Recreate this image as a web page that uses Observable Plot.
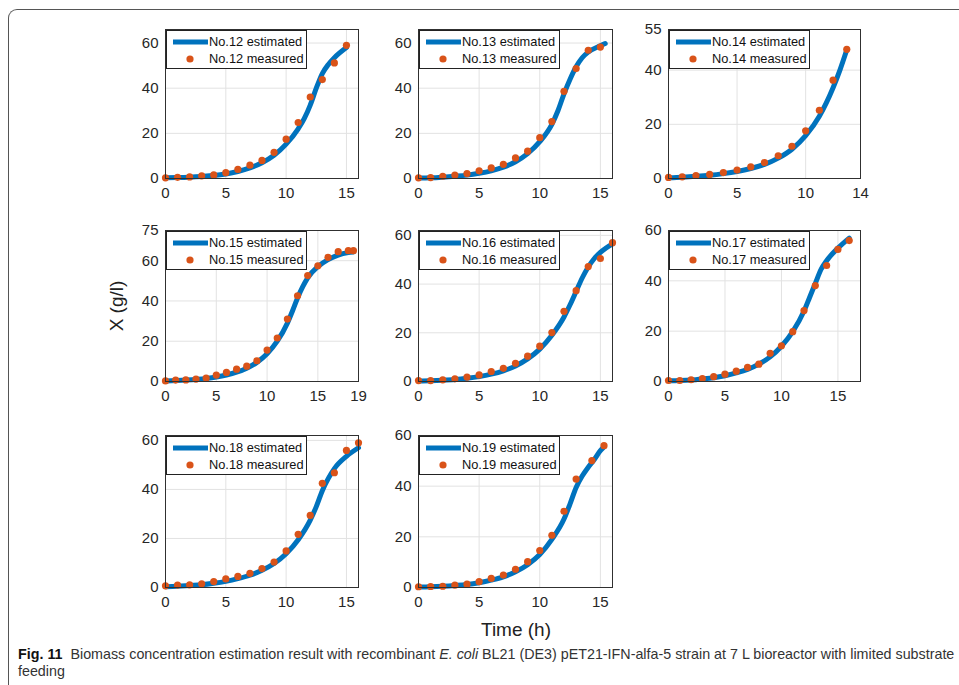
<!DOCTYPE html>
<html><head><meta charset="utf-8">
<script src="https://cdn.jsdelivr.net/npm/d3@7"></script>
<script src="https://cdn.jsdelivr.net/npm/@observablehq/plot@0.6"></script>
<style>
html,body{margin:0;padding:0;background:#fff;}
body{width:959px;height:685px;overflow:hidden;position:relative;font-family:"Liberation Sans",Arial,sans-serif;}
#border{position:absolute;left:8px;top:9px;width:980px;height:700px;border-left:1px solid #555;border-top:1px solid #555;border-top-left-radius:9px;}
.panel{position:absolute;}
.legend{position:absolute;background:#fff;border:1px solid #222;box-sizing:border-box;width:141px;height:39px;font-size:12.8px;color:#111;}
.legend .t{position:absolute;left:42px;white-space:nowrap;line-height:14px;}
.legend svg{position:absolute;left:0;top:0;}
.axtitle{position:absolute;font-size:19px;color:#222;white-space:nowrap;}
.capline{position:absolute;left:18px;font-size:14.3px;line-height:17px;color:#333;white-space:nowrap;}
.capline b{color:#111;}
</style></head>
<body>
<div id="border"></div>
<div id="root"></div>
<div class="axtitle" id="ylab" style="left:117px;top:306px;transform:translate(-50%,-50%) rotate(-90deg);">X (g/l)</div>
<div class="axtitle" id="xlab" style="left:516px;top:630px;transform:translate(-50%,-50%);">Time (h)</div>
<div class="capline" style="top:646px"><b>Fig. 11</b>&nbsp; Biomass concentration estimation result with recombinant <i>E. coli</i> BL21 (DE3) pET21-IFN-alfa-5 strain at 7 L bioreactor with limited substrate</div>
<div class="capline" style="top:663px">feeding</div>
<script>
// ---------- data ----------
const names = ["No.12","No.13","No.14","No.15","No.16","No.17","No.18","No.19"];

const meas12T = [0,1,2,3,4,5,6,7,8,9,10,11,12,13,14,15];
const meas12X = [0.3,0.5,0.7,1.2,1.6,2.6,4.0,5.9,8.0,11.6,17.4,24.8,36.1,43.8,51.2,59.0];
const est12T = [0,1,2,3,4,5,6,7,8,9,10,11,11.5,12,12.5,13,13.5,14,15];
const est12X = [0.3,0.4,0.6,0.9,1.3,2.0,3.1,4.7,7.0,10.3,15.2,22.0,26.5,32.5,40,46.5,50.5,53.5,58];

const meas13T = [0,1,2,3,4,5,6,7,8,9,10,11,12,13,14,15];
const meas13X = [0.3,0.4,1.0,1.5,2.2,3.4,4.7,6.3,9.1,12.1,18.1,25.2,38.6,48.7,56.8,58.2];
const est13T = [0,1,2,3,4,5,6,7,8,9,10,11,11.5,12,12.5,13,13.5,14,15,15.4];
const est13X = [0.2,0.3,0.6,1.0,1.5,2.3,3.4,5.0,7.4,11.0,16.3,24.0,30,37.5,44,49.5,53.5,56,58.8,59.8];

const meas14T = [0,1,2,3,4,5,6,7,8,9,10,11,12,13];
const meas14X = [0.4,0.6,1.1,1.5,2.2,3.1,4.3,5.9,8.4,11.9,17.6,25.2,36.3,47.7];
const est14T = [0,1,2,3,4,5,6,7,8,9,10,11,12,12.5,13];
const est14X = [0.3,0.5,0.8,1.2,1.8,2.6,3.7,5.2,7.5,10.8,15.8,23,33.5,40,47.5];

const meas15T = [0,1,2,3,4,5,6,7,8,9,10,11,12,13,14,15,16,17,18,18.5];
const meas15X = [0.3,0.7,0.8,1.2,1.7,3.2,4.5,6.1,7.6,10.3,15.6,21.6,31.0,42.6,52.6,57.5,61.7,64.5,65.0,65.0];
const est15T = [0,2,4,5,6,7,8,9,10,11,12,12.5,13,13.5,14,15,16,17,18,18.5];
const est15X = [0.3,0.7,1.5,2.2,3.2,4.6,6.6,9.5,13.8,20,29,35,41.5,47,51.5,57,60.5,62.8,64,64.3];

const meas16T = [0,1,2,3,4,5,6,7,8,9,10,11,12,13,14,15,16];
const meas16X = [0.4,0.4,0.7,1.1,1.8,2.7,4.1,5.4,7.5,10.4,14.5,20.1,28.8,37.3,47.2,50.5,57.0];
const est16T = [0,1,2,3,4,5,6,7,8,9,10,11,12,12.5,13,13.5,14,14.5,15,16];
const est16X = [0.2,0.3,0.5,0.8,1.3,2.0,3.0,4.4,6.4,9.3,13.3,19,26.5,31.5,37,42.5,47,50.5,53,56.5];

const meas17T = [0,1,2,3,4,5,6,7,8,9,10,11,12,13,14,15,16];
const meas17X = [0.4,0.4,0.7,1.2,1.9,2.9,4.1,5.6,6.9,11.2,14.2,19.8,28.2,38.1,46.1,52.5,56.0];
const est17T = [0,1,2,3,4,5,6,7,8,9,10,11,12,12.5,13,13.5,14,15,16];
const est17X = [0.3,0.4,0.6,1.0,1.5,2.3,3.4,4.8,6.9,9.8,14,19.8,28,33.5,39,44.5,48,53,57];

const meas18T = [0,1,2,3,4,5,6,7,8,9,10,11,12,13,14,15,16];
const meas18X = [0.7,1.0,1.1,1.5,2.4,3.5,4.5,5.8,7.7,10.4,14.9,21.7,29.4,42.5,46.8,55.9,59.0];
const est18T = [0,1,2,3,4,5,6,7,8,9,10,11,12,12.5,13,13.5,14,15,16];
const est18X = [0.3,0.5,0.8,1.1,1.7,2.5,3.6,5.0,7.0,9.8,13.8,19.5,27.5,33,39.5,44.5,48.5,53.5,57];

const meas19T = [0,1,2,3,4,5,6,7,8,9,10,11,12,13,14.3,15.3];
const meas19X = [0.3,0.4,0.5,0.9,1.3,2.3,3.6,4.9,7.2,10.2,14.6,20.6,30.1,42.8,50.1,56.0];
const est19T = [0,1,2,3,4,5,6,7,8,9,10,11,12,12.5,13,13.5,14,14.5,15,15.3];
const est19X = [0.2,0.3,0.5,0.8,1.2,1.9,2.9,4.2,6.2,9.0,13.0,19,27,33,39.5,44,47.5,50.5,54,55.5];

const xTicksStd = [0,5,10,15];
const yTicksStd = [0,20,40,60];
const xTicks14 = [0,5,10,14];
const yTicks14 = [0,20,40,55];
const xTicks15 = [0,5,10,15,19];
const yTicks15 = [0,20,40,60,75];

const xDomains = [[0,16],[0,16],[0,14],[0,19],[0,16],[0,17],[0,16],[0,16]];
const yDomains = [[0,66],[0,66],[0,55],[0,75],[0,62],[0,60],[0,62],[0,60]];

const measT = [meas12T,meas13T,meas14T,meas15T,meas16T,meas17T,meas18T,meas19T];
const measX = [meas12X,meas13X,meas14X,meas15X,meas16X,meas17X,meas18X,meas19X];
const estT = [est12T,est13T,est14T,est15T,est16T,est17T,est18T,est19T];
const estX = [est12X,est13X,est14X,est15X,est16X,est17X,est18X,est19X];
const xTickSets = [xTicksStd,xTicksStd,xTicks14,xTicks15,xTicksStd,xTicksStd,xTicksStd,xTicksStd];
const yTickSets = [yTicksStd,yTicksStd,yTicks14,yTicks15,yTicksStd,yTicksStd,yTicksStd,yTicksStd];

// ---------- layout ----------
const colX = [[165,358],[418,612],[668,860]];
const rowY = [[29,178],[230,381],[435,587]];
const ML = 50, MR = 12, MT = 8, MB = 30;
const BLUE = "#0072BD", ORANGE = "#D95319";

const root = document.getElementById("root");
names.forEach((name, i) => {
  const col = i % 3, row = Math.floor(i / 3);
  const [x0, x1] = colX[col], [y0, y1] = rowY[row];
  const fw = x1 - x0, fh = y1 - y0;
  const meas = measT[i].map((t, k) => ({t, v: measX[i][k]}));
  const est = estT[i].map((t, k) => ({t, v: estX[i][k]}));
  const chart = Plot.plot({
    width: fw + ML + MR, height: fh + MT + MB,
    marginLeft: ML, marginRight: MR, marginTop: MT, marginBottom: MB,
    style: {fontFamily: "'Liberation Sans', Arial, sans-serif", fontSize: "15px", color: "#262626", background: "transparent", overflow: "visible"},
    x: {domain: xDomains[i], ticks: xTickSets[i], tickSize: 0, tickPadding: 9, label: null},
    y: {domain: yDomains[i], ticks: yTickSets[i], tickSize: 0, tickPadding: 7, label: null},
    marks: [
      Plot.gridX(xTickSets[i], {stroke: "#e2e2e2", strokeOpacity: 1}),
      Plot.gridY(yTickSets[i], {stroke: "#e2e2e2", strokeOpacity: 1}),
      Plot.line(est, {x: "t", y: "v", stroke: BLUE, strokeWidth: 5, curve: "monotone-x"}),
      Plot.dot(meas, {x: "t", y: "v", fill: ORANGE, r: 3.6}),
      Plot.frame({stroke: "#303030"})
    ]
  });
  const wrap = document.createElement("div");
  wrap.className = "panel";
  wrap.style.left = (x0 - ML) + "px";
  wrap.style.top = (y0 - MT) + "px";
  wrap.appendChild(chart);
  root.appendChild(wrap);

  const lg = document.createElement("div");
  lg.className = "legend";
  lg.style.left = (x0 + 1) + "px";
  lg.style.top = (y0 + 1) + "px";
  lg.innerHTML =
    `<svg width="42" height="39"><line x1="6" x2="41" y1="11" y2="11" stroke="${BLUE}" stroke-width="5"/>` +
    `<circle cx="23" cy="28" r="3.6" fill="${ORANGE}"/></svg>` +
    `<div class="t" style="top:4px">${name} estimated</div>` +
    `<div class="t" style="top:21px">${name} measured</div>`;
  root.appendChild(lg);
});
</script>
</body></html>
